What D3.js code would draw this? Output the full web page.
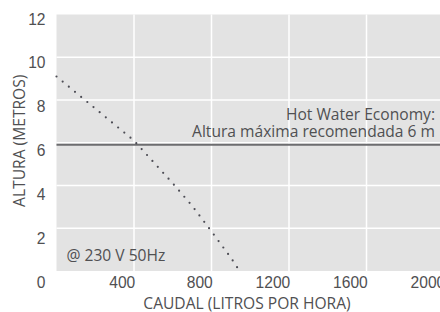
<!DOCTYPE html>
<html>
<head>
<meta charset="utf-8">
<script src="https://cdn.jsdelivr.net/npm/d3@7"></script>
<style>
  body { margin: 0; background: #fff; }
  svg { display: block; font-family: "Open Sans", sans-serif; }
  .tick text { fill: #505052; font-size: 15.6px; }
  .lbl { fill: #505052; font-size: 15.6px; }
</style>
</head>
<body>
<div class="chart"></div>
<script>
const width = 440;
const height = 312;

// data
const flow = [0, 100, 200, 300, 400, 500, 600, 700, 800, 900, 945];   // litros por hora
const head = [9.1, 8.35, 7.6, 6.85, 6.1, 5.1, 4.1, 3.05, 1.85, 0.62, 0]; // metros
const xTicks = [0, 400, 800, 1200, 1600, 2000];
const yTicks = [0, 2, 4, 6, 8, 10, 12];
const limit = 6;

const margin = {top: 14.5, right: -4, bottom: 41, left: 56.5};

const svg = d3.select(".chart")
    .append("svg")
    .attr("width", width)
    .attr("height", height);

const x = d3.scaleLinear().domain([0, 2000]).range([margin.left, width - margin.right]);
const y = d3.scaleLinear().domain([0, 12]).range([height - margin.bottom, margin.top]);

// background
svg.append("rect")
    .attr("x", x(0))
    .attr("y", y(12))
    .attr("width", x(2000) - x(0))
    .attr("height", y(0) - y(12))
    .attr("fill", "#e3e3e3");

// grid
svg.append("g")
    .selectAll("line.gx")
    .data(xTicks.filter(d => d > 0))
    .join("line")
    .attr("x1", d => x(d)).attr("x2", d => x(d))
    .attr("y1", y(0)).attr("y2", y(12))
    .attr("stroke", "#fff")
    .attr("stroke-width", 1.5);

svg.append("g")
    .selectAll("line.gy")
    .data(yTicks.filter(d => d > 0 && d < 12))
    .join("line")
    .attr("x1", x(0)).attr("x2", x(2000))
    .attr("y1", d => y(d)).attr("y2", d => y(d))
    .attr("stroke", "#fff")
    .attr("stroke-width", 1.5);

// axes (labels only)
const xAxis = svg.append("g")
    .attr("transform", `translate(0,${y(0) + 13.5})`)
    .call(d3.axisBottom(x).tickValues(xTicks.filter(d => d > 0)).tickSize(0).tickFormat(d3.format("d")));
xAxis.select(".domain").remove();
xAxis.selectAll("text").attr("text-anchor", "end").attr("dx", "0.05em").attr("dy", "0");

// y labels sit a little below their gridlines
const yLab = y.copy().range([y(0) + 11, y(12) + 4.5]);
const yAxis = svg.append("g")
    .attr("transform", `translate(${x(0) - 8},0)`)
    .call(d3.axisLeft(yLab).tickValues(yTicks).tickSize(0));
yAxis.select(".domain").remove();
yAxis.selectAll("text").attr("dx", "0");

// recommended max line
svg.append("line")
    .attr("x1", x(0)).attr("x2", x(2000))
    .attr("y1", y(limit) + 2).attr("y2", y(limit) + 2)
    .attr("stroke", "#6d6d6f")
    .attr("stroke-width", 2);

// pump curve
const line = d3.line()
    .x((d, i) => x(flow[i]))
    .y(d => y(d));

svg.append("path")
    .datum(head)
    .attr("d", line)
    .attr("fill", "none")
    .attr("stroke", "#4d4d55")
    .attr("stroke-width", 2.2)
    .attr("stroke-linecap", "round")
    .attr("stroke-dasharray", "0 8");

// annotations
svg.append("text")
    .attr("class", "lbl")
    .attr("x", 435).attr("y", 120)
    .attr("text-anchor", "end")
    .text("Hot Water Economy:");
svg.append("text")
    .attr("class", "lbl")
    .attr("x", 435).attr("y", 136.7)
    .attr("text-anchor", "end")
    .text("Altura máxima recomendada 6 m");

svg.append("text")
    .attr("class", "lbl")
    .attr("x", 66.5).attr("y", 260.5)
    .text("@ 230 V 50Hz");

svg.append("text")
    .attr("class", "lbl")
    .attr("x", 247).attr("y", 309)
    .attr("text-anchor", "middle")
    .text("CAUDAL (LITROS POR HORA)");

svg.append("text")
    .attr("class", "lbl")
    .attr("transform", `translate(25,${(y(0) + y(12)) / 2 - 2}) rotate(-90)`)
    .attr("text-anchor", "middle")
    .text("ALTURA (METROS)");
</script>
</body>
</html>
